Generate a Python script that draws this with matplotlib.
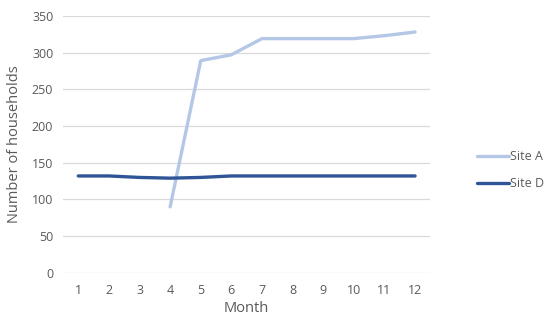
import numpy as np
import matplotlib.pyplot as plt

months = np.arange(1, 13)
site_a = [np.nan, np.nan, np.nan, 90, 289, 297, 319, 319, 319, 319, 323, 328]
site_d = [132, 132, 130, 129, 130, 132, 132, 132, 132, 132, 132, 132]

plt.rcParams['font.family'] = ['Open Sans', 'DejaVu Sans']

fig = plt.figure(figsize=(5.5, 3.3), dpi=100)
ax = fig.add_axes([0.1145, 0.173, 0.668, 0.779])

ax.plot(months, site_a, color='#B4C7E7', lw=2.4, label='Site A', solid_capstyle='round')
ax.plot(months, site_d, color='#2F5597', lw=2.4, label='Site D', solid_capstyle='round')

ax.set_xlim(0.5, 12.5)
ax.set_ylim(0, 350)
ax.set_yticks(range(0, 351, 50))
ax.set_xticks(months)
ax.grid(axis='y', color='#D9D9D9', lw=0.9)
ax.set_axisbelow(True)
for s in ax.spines.values():
    s.set_visible(False)
ax.tick_params(length=0, labelsize=9, labelcolor='#595959', pad=8)
ax.tick_params(axis='y', pad=7)
ax.set_xlabel('Month', fontsize=10.5, color='#595959', labelpad=3)
ax.set_ylabel('Number of households', fontsize=10.5, color='#595959', labelpad=7)

ax.legend(loc='center left', bbox_to_anchor=(1.095, 0.40), frameon=False,
          fontsize=9, labelcolor='#595959', handlelength=2.6, handletextpad=0.1,
          labelspacing=1.1)

fig.savefig('out.png', dpi=100)
